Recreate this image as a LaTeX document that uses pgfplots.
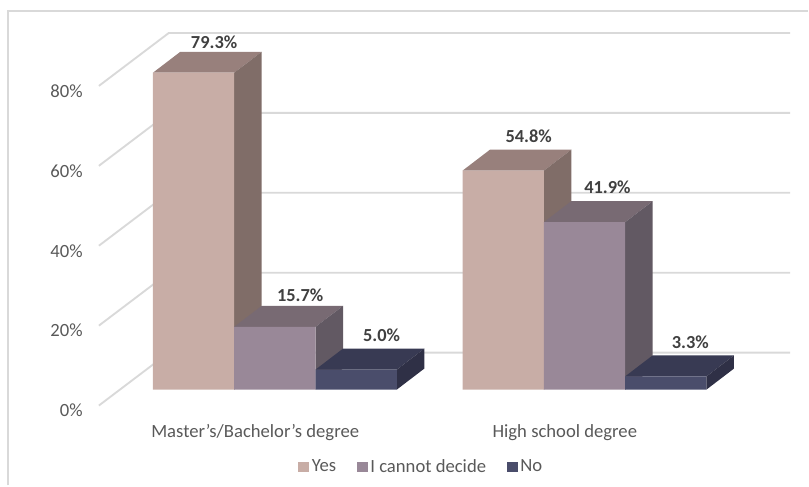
\documentclass[border=0pt]{standalone}
\usepackage{pgfplots}
\pgfplotsset{compat=1.18}
\usepackage{fontspec}
\setmainfont{Carlito}
\definecolor{gridgray}{HTML}{D9D9D9}
\definecolor{ticktext}{HTML}{595959}
\definecolor{valtext}{HTML}{404040}
\definecolor{yesF}{HTML}{C8ADA6}\definecolor{yesT}{HTML}{98807C}\definecolor{yesS}{HTML}{806D68}
\definecolor{undF}{HTML}{998898}\definecolor{undT}{HTML}{786A73}\definecolor{undS}{HTML}{625963}
\definecolor{noF}{HTML}{4A4D6B}\definecolor{noT}{HTML}{383A53}\definecolor{noS}{HTML}{2F3046}
% bar width and depth offset in data units
\def\bw{0.2626}
\def\ddx{0.0887}
\def\ddy{5.25}
% top and right side of a box: #1 left edge, #2 value, #3 top colour, #4 side colour
\newcommand\boxfaces[4]{%
  \pgfmathsetmacro\xb{#1+\bw}%
  \pgfmathsetmacro\xc{#1+\bw+\ddx}%
  \pgfmathsetmacro\xd{#1+\ddx}%
  \pgfmathsetmacro\yt{#2+\ddy}%
  \addplot[forget plot,fill=#3,draw=none] coordinates {(#1,#2) (\xb,#2) (\xc,\yt) (\xd,\yt)} --cycle;
  \addplot[forget plot,fill=#4,draw=none] coordinates {(\xb,0) (\xc,\ddy) (\xc,\yt) (\xb,#2)} --cycle;
}
\pgfplotsset{
  common/.style={
    scale only axis, width=519pt, height=285pt,
    xmin=-0.5684, xmax=1.6639, ymin=0, ymax=95,
    clip=false, axis line style={draw=none}, tick style={draw=none},
  },
  frontbar/.style={ybar,bar width=\bw,bar shift=#1,draw=none,
    legend image code/.code={\fill[##1] (0pt,-4.1pt) rectangle (8.2pt,4.1pt);}},
}
\begin{document}
\begin{tikzpicture}
  \path (0pt,0pt) rectangle (606.75pt,364.5pt);
  % outer frame, left and top edges
  \draw[gridgray,line width=1.4pt] (6pt,0pt) -- (6pt,356.25pt) -- (606.75pt,356.25pt);

  % walls with their gridlines; the wall plane has its own zero level
  \begin{axis}[common, at={(74.25pt,60pt)}, anchor=south west,
    xtick=\empty, ytick={0,20,40,60,80},
    yticklabel={\pgfmathprintnumber{\tick}\%},
    /pgf/number format/assume math mode=true,
    y tick label style={anchor=east,inner sep=0pt,xshift=-12pt,yshift=-3.8pt,
      font=\fontsize{14}{15}\selectfont,text=ticktext},
  ]
    \addplot[gridgray,line width=1.4pt] coordinates {(-0.5684,0) (-0.3426,13.25) (1.6639,13.25)};
    \addplot[gridgray,line width=1.4pt] coordinates {(-0.5684,20) (-0.3426,33.25) (1.6639,33.25)};
    \addplot[gridgray,line width=1.4pt] coordinates {(-0.5684,40) (-0.3426,53.25) (1.6639,53.25)};
    \addplot[gridgray,line width=1.4pt] coordinates {(-0.5684,60) (-0.3426,73.25) (1.6639,73.25)};
    \addplot[gridgray,line width=1.4pt] coordinates {(-0.5684,80) (-0.3426,93.25) (1.6639,93.25)};
  \end{axis}

  % boxes: front faces are bars, tops and sides are offset by the depth
  \begin{axis}[common, at={(74.25pt,72pt)}, anchor=south west,
    xtick={0,1}, ytick=\empty,
    xticklabels={Master’s/Bachelor’s degree,High school degree},
    x tick label style={anchor=center,inner sep=0pt,xshift=-14.8pt,yshift=-32pt,
      font=\fontsize{14}{15}\selectfont,text=ticktext},
    legend style={at={(0.4668,-0.204)},anchor=center,draw=none,fill=none,
      font=\fontsize{14}{15}\selectfont,text=ticktext,inner sep=0pt,
      /tikz/every even column/.append style={column sep=13.5pt}},
    legend columns=3, legend cell align=left,
  ]
    \boxfaces{-0.3939}{79.3}{yesT}{yesS}
    \boxfaces{0.6061}{54.8}{yesT}{yesS}
    \addplot[frontbar=-\bw,fill=yesF] coordinates {(0,79.3) (1,54.8)};
    \addlegendentry{Yes}

    \boxfaces{-0.1313}{15.7}{undT}{undS}
    \boxfaces{0.8687}{41.9}{undT}{undS}
    \addplot[frontbar=0,fill=undF] coordinates {(0,15.7) (1,41.9)};
    \addlegendentry{I cannot decide}

    \boxfaces{0.1313}{5.0}{noT}{noS}
    \boxfaces{1.1313}{3.3}{noT}{noS}
    \addplot[frontbar=\bw,fill=noF] coordinates {(0,5.0) (1,3.3)};
    \addlegendentry{No}

    % value labels above the boxes
    \tikzset{val/.style={font=\fontsize{13.8}{15}\selectfont\bfseries,text=valtext,inner sep=0pt}}
    \node[val,xshift=-5.2pt,yshift=23pt] at (axis cs:-0.2626+\ddx,79.3) {79.3\%};
    \node[val,xshift=-1.5pt,yshift=26pt] at (axis cs:0.7374+\ddx,54.8) {54.8\%};
    \node[val,xshift=-3.4pt,yshift=26pt] at (axis cs:1+\ddx,41.9) {41.9\%};
    \node[val,xshift=-1.6pt,yshift=24pt] at (axis cs:\ddx,15.7) {15.7\%};
    \node[val,xshift=-1.6pt,yshift=26pt] at (axis cs:0.2626+\ddx,5.0) {5.0\%};
    \node[val,xshift=-2.2pt,yshift=26pt] at (axis cs:1.2626+\ddx,3.3) {3.3\%};
  \end{axis}
\end{tikzpicture}
\end{document}
